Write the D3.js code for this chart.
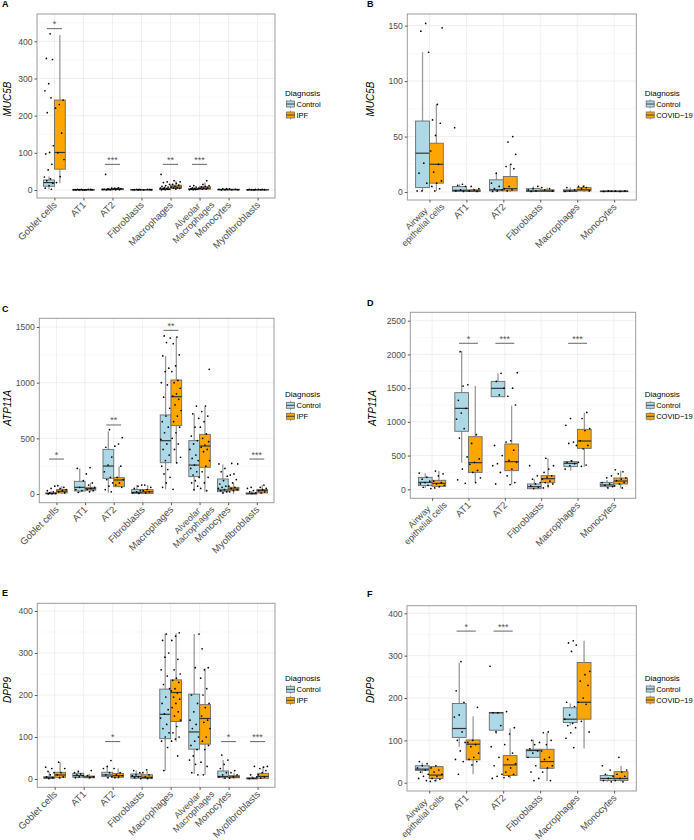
<!DOCTYPE html>
<html><head><meta charset="utf-8">
<script src="https://cdn.jsdelivr.net/npm/d3@7"></script>
<style>body{margin:0;background:#fff} svg{display:block} text{font-family:"Liberation Sans",Arial,Helvetica,sans-serif}</style>
</head><body>
<svg id="c" width="694" height="840"></svg>
<script>
// ---------- categories ----------
const catsIPF = ["Goblet cells","AT1","AT2","Fibroblasts","Macrophages","Alveolar\nMacrophages","Monocytes","Myofibroblasts"];
const catsCOV = ["Airway\nepithelial cells","AT1","AT2","Fibroblasts","Macrophages","Monocytes"];
const groups = ["Control","Case"];

// ---------- box stats: [lower whisker, Q1, median, Q3, upper whisker] ----------
// Panel A: MUC5B, IPF
const aCtrlBox = [[2,10,20,27,36],[0,0.3,0.8,1.5,3],[0,0.5,1,2.5,5],[0,0.3,0.8,1.5,3],[0,1,2.5,5,12],[0,1,2,4,9],[0,0.5,1,2,4],[0,0.3,0.7,1.2,2.5]];
const aCaseBox = [[18,56,101,242,417],[0,0.3,0.7,1.3,2.5],[0,1,2,4,8],[0,0.3,0.7,1.5,3],[0,4,8,13,25],[0,2,5,9,20],[0,0.5,1,2,4],[0,0.3,0.8,1.5,3]];
const aCtrlPts = [[420,354,351,286,267,248,208,119,101,97,69,54,35,30,25,18,12,5,2],[0.2,0.5,1,1.5,2,0.8,1.2,0.4],[42,5,3,2,1,0.5,1.5,2.5],[0.3,0.8,1.2,2,0.5,1.5],[42,22,20,15,12,10,8,6,5,4,3,2,1,0.5,2.5,3.5],[12,10,8,6,5,4,3,2,1,0.5,1.5,2.5],[4,3,2,1,0.5,1.5],[2,1.5,1,0.5,0.3]];
const aCasePts = [[242,230,220,153,100,82,36,20],[0.5,1,2,0.3,1.5],[6,5,4,3,2,1,0.5],[1,2,0.5,1.5],[25,22,18,15,13,10,8,6,5,4,3],[25,15,12,10,8,6,5,4,3,2],[3,2,1,0.5],[2,1.5,1,0.5]];
const aSigCat = [0,2,4,5]; const aSigLab = ["*","***","**","***"]; const aSigY = [434,69,69,69];
const aYTicks = [0,100,200,300,400];

// Panel B: MUC5B, COVID-19
const bCtrlBox = [[1,4,35,64,126],[0,0.5,1.5,5,7],[0,1,2,11,17],[0,0.5,1,3,5],[0,0.5,1,2,4],[0,0.3,0.6,1,1.5]];
const bCaseBox = [[1,8,25,44,79],[0,0.5,1,2,3],[0,1,3,14,25],[0,0.5,1,2,4],[0,1,2,4,6],[0,0.3,0.6,1,1.5]];
const bCtrlPts = [[152,145,126,26,17,8,1,1],[58,7,6,5,2,1,0.5],[17,8,5,3,2,1,0.5],[5,3,2,1,0.5],[4,2,1,0.5],[1,0.5,0.8]];
const bCasePts = [[148,79,65,62,51,37,25,18,10,8,5,3,1],[5,3,2,1,0.5],[50,45,34,25,23,21,5,3,2,1],[4,3,2,1],[5,5,4,3,1],[1,0.5,0.8]];
const bSigCat = []; const bSigLab = []; const bSigY = [];
const bYTicks = [0,50,100,150];

// Panel C: ATP11A, IPF
const cCtrlBox = [[0,2,5,10,25],[12,27,60,114,230],[12,141,251,401,563],[0,5,15,40,80],[42,281,479,710,1240],[27,156,260,479,724],[0,21,36,135,266],[0,1,3,10,25]];
const cCaseBox = [[0,10,25,40,75],[20,35,48,60,100],[60,66,126,147,246],[0,5,20,40,80],[275,614,874,1024,1413],[21,240,431,536,784],[0,30,45,60,100],[0,10,30,40,80]];
const cCtrlPts = [[70,50,30,20,10,5,3,1],[230,120,60,40,30,15],[578,420,332,260,200,150,130,100,70,40,20],[80,70,50,30,20,10,5],[1420,1400,1360,1240,1130,1100,1000,980,870,770,700,650,600,550,490,450,400,350,300,250,220,180,150,100,60],[790,720,680,600,520,480,450,400,350,320,300,260,230,200,170,150,120,100,70,40],[270,230,200,160,120,90,70,60,50,40,30,20,10],[60,50,30,20,10,5]];
const cCasePts = [[75,60,50,40,30,20,10],[237,180,100,80,60,50,40,30,20],[506,449,430,250,150,130,100,80,60],[80,60,40,30,20,10],[1410,1350,1250,1150,1100,1020,1000,950,900,880,850,800,750,700,650,600,550,500,450,400,330,280,42],[1120,790,740,700,650,600,540,500,470,440,420,400,380,300,250,200,150,100,50,30],[275,270,180,170,130,100,70,60,50,40,30,20],[80,60,50,40,30,20,10]];
const cSigCat = [0,2,4,7]; const cSigLab = ["*","**","**","***"]; const cSigY = [314,620,1470,314];
const cYTicks = [0,500,1000,1500];

// Panel D: ATP11A, COVID-19
const dCtrlBox = [[20,54,103,177,237],[395,860,1200,1433,2050],[1373,1373,1497,1600,1720],[9,9,39,79,150],[276,336,385,410,435],[20,39,64,103,138]];
const dCaseBox = [[20,44,88,133,276],[88,251,395,780,1530],[69,276,410,672,1240],[14,98,157,202,459],[336,607,716,889,1136],[14,79,123,167,276]];
const dCtrlPts = [[240,180,150,120,100,80,60,30,10],[2040,1550,1530,1320,1200,1130,1040,900,760,480,300,140,90],[1720,1600,1500,1400,650,500,380,350,250,80],[350,200,150,100,80,50,30,10],[1050,950,700,680,650,420,400,380,350,300],[200,170,100,80,60,40,20]];
const dCasePts = [[270,230,200,120,100,80,60,40,20],[810,680,450,400,370,280,250,170,100],[1729,1500,1380,1250,720,700,580,430,400,300,200,100,70],[460,350,300,250,200,180,150,120,100,80,50,20],[1140,1050,900,870,720,650,600,400,360,340],[290,260,230,170,150,130,100,80,50,20]];
const dSigCat = [1,2,4]; const dSigLab = ["*","***","***"]; const dSigY = [2165,2165,2165];
const dYTicks = [0,500,1000,1500,2000,2500];

// Panel E: DPP9, IPF
const eCtrlBox = [[0,1.6,3,5.5,17],[2,4,8,13.5,18],[1,5.6,9.5,16,29],[0,2,6,12,20],[20,96,154,214,347],[12,71,112,202,345],[0,4,6,19,45],[0,0.5,1,3,7]];
const eCaseBox = [[0,4,9.5,16,40],[0,3,5,7,12],[0,4,8,13,25],[0,1,4,10,20],[89,137,206,236,347],[9.5,83,144,177,263],[0,3,5,8,15],[0,1.6,6,13.5,30]];
const eCtrlPts = [[28,25,18,15,10,5,3,1],[18,15,12,10,8,5,3],[44,30,25,15,10,5,3],[20,15,10,8,5,3,1],[345,330,300,290,260,245,225,215,195,180,165,155,145,130,120,110,100,90,75,20],[345,265,200,180,160,140,130,120,100,90,80,70,55,45,35,15,10],[57,45,35,25,15,10,5,2],[30,10,5,2,1]];
const eCasePts = [[40,25,15,10,5,3],[20,8,5,3],[25,15,10,8,5,3],[22,15,10,5,3,1],[348,340,330,285,260,250,240,235,230,215,210,205,195,190,180,170,160,150,140,125,110,100,95,90,55],[310,265,260,240,215,200,180,170,150,140,135,120,100,90,80,70,40,30,10],[20,15,10,5,2],[30,28,25,20,15,10,5,2]];
const eSigCat = [2,6,7]; const eSigLab = ["*","*","***"]; const eSigY = [89,89,89];
const eYTicks = [0,100,200,300,400];

// Panel F: DPP9, COVID-19
const fCtrlBox = [[22,29,32,40,47],[85,107,128,187,283],[115,124,165,166,166],[60,60,76,79,102],[135,142,150,177,187],[2,5,10,17,20]];
const fCaseBox = [[2,10,18,38,40],[20,54,91,101,157],[10,17,42,64,128],[4,34,50,79,118],[81,150,190,284,335],[2,5,10,26,40]];
const fCtrlPts = [[50,45,40,35,30,25,20,15,10,5],[286,217,190,160,155,120,100,95,75,55,50,20],[275,165,165,135,120,85,60,40,20,15,10],[100,95,90,80,75,70,60,40,25,10,5],[335,330,325,310,190,180,160,150,140,135,130,118,105,83],[40,30,20,15,10,5,2]];
const fCasePts = [[40,35,30,25,20,15,10,8,5,3],[178,100,95,90,85,70,60,55,50,42],[168,130,115,90,70,55,45,35,25,20,15,12],[120,118,100,90,75,60,55,40,35,25,5],[263,255,240,230,200,190,185,145,120],[60,30,25,20,15,10,5,2]];
const fSigCat = [1,2]; const fSigLab = ["*","***"]; const fSigY = [358,358];
const fYTicks = [0,100,200,300,400];

// ---------- layout ----------
const panels = [
 {letter:"A",cats:catsIPF,cb:aCtrlBox,kb:aCaseBox,cp:aCtrlPts,kp:aCasePts,sc:aSigCat,sl:aSigLab,sy:aSigY,yt:aYTicks,gene:"MUC5B",caseName:"IPF",
  l:37,r:275,t:14,b:198,yd:[-21.5,473.4],lp:[2,7],ytp:[7,99],leg:[285,93]},
 {letter:"B",cats:catsCOV,cb:bCtrlBox,kb:bCaseBox,cp:bCtrlPts,kp:bCasePts,sc:bSigCat,sl:bSigLab,sy:bSigY,yt:bYTicks,gene:"MUC5B",caseName:"COVID\u221219",
  l:407.3,r:636.3,t:14,b:200,yd:[-7.2,160.5],lp:[367,7],ytp:[370,99],leg:[644.7,93]},
 {letter:"C",cats:catsIPF,cb:cCtrlBox,kb:cCaseBox,cp:cCtrlPts,kp:cCasePts,sc:cSigCat,sl:cSigLab,sy:cSigY,yt:cYTicks,gene:"ATP11A",caseName:"IPF",
  l:39.3,r:274,t:318.3,b:502.7,yd:[-78,1578],lp:[2,312],ytp:[7,408],leg:[285,394.3]},
 {letter:"D",cats:catsCOV,cb:dCtrlBox,kb:dCaseBox,cp:dCtrlPts,kp:dCasePts,sc:dSigCat,sl:dSigLab,sy:dSigY,yt:dYTicks,gene:"ATP11A",caseName:"COVID\u221219",
  l:410.3,r:635.7,t:312.3,b:498.3,yd:[-133.5,2624.5],lp:[367,306],ytp:[372,408],leg:[644.7,394.3]},
 {letter:"E",cats:catsIPF,cb:eCtrlBox,kb:eCaseBox,cp:eCtrlPts,kp:eCasePts,sc:eSigCat,sl:eSigLab,sy:eSigY,yt:eYTicks,gene:"DPP9",caseName:"IPF",
  l:37.3,r:275,t:603.3,b:787.3,yd:[-19.8,418.3],lp:[2,596],ytp:[7,690],leg:[285,678.3]},
 {letter:"F",cats:catsCOV,cb:fCtrlBox,kb:fCaseBox,cp:fCtrlPts,kp:fCasePts,sc:fSigCat,sl:fSigLab,sy:fSigY,yt:fYTicks,gene:"DPP9",caseName:"COVID\u221219",
  l:407,r:636.3,t:605.7,b:791,yd:[-19.6,418],lp:[367,596.7],ytp:[370,690],leg:[644.7,678]}
];

const fills = ["#ADD8E6","#FFA500"];
const svg = d3.select("#c");
const FONT = "'Liberation Sans',Arial,Helvetica,sans-serif";

panels.forEach((p, pi) => {
  const g = svg.append("g");
  const x = d3.scalePoint().domain(p.cats).range([p.l, p.r]).padding(0.6);
  const y = d3.scaleLinear().domain(p.yd).range([p.b, p.t]);
  const u = x.step();
  const half = 0.1875 * u;

  // minor grid
  const minor = [];
  const step = p.yt[1] - p.yt[0];
  p.yt.forEach(t => [t - step/2, t + step/2].forEach(v => { if (v > p.yd[0] && v < p.yd[1] && !minor.includes(v)) minor.push(v); }));
  g.append("g").selectAll("line").data(minor).join("line")
    .attr("x1", p.l).attr("x2", p.r).attr("y1", d => y(d)).attr("y2", d => y(d))
    .attr("stroke", "#f3f3f3").attr("stroke-width", 0.6);
  g.append("g").selectAll("line").data(p.yt).join("line")
    .attr("x1", p.l).attr("x2", p.r).attr("y1", d => y(d)).attr("y2", d => y(d))
    .attr("stroke", "#ebebeb").attr("stroke-width", 0.8);
  g.append("g").selectAll("line").data(p.cats).join("line")
    .attr("x1", d => x(d)).attr("x2", d => x(d)).attr("y1", p.t).attr("y2", p.b)
    .attr("stroke", "#ebebeb").attr("stroke-width", 0.8);

  // boxes
  p.cats.forEach((c, ci) => {
    [p.cb[ci], p.kb[ci]].forEach((bx, gi) => {
      const cx = x(c) + (gi === 0 ? -half : half);
      const [lo, q1, md, q3, hi] = bx;
      g.append("line").attr("x1", cx).attr("x2", cx).attr("y1", y(hi)).attr("y2", y(q3))
        .attr("stroke", "#9a9a9a").attr("stroke-width", 1.3);
      g.append("line").attr("x1", cx).attr("x2", cx).attr("y1", y(q1)).attr("y2", y(lo))
        .attr("stroke", "#9a9a9a").attr("stroke-width", 1.3);
      g.append("rect").attr("x", cx - half).attr("width", 2*half)
        .attr("y", y(q3)).attr("height", Math.max(0.6, y(q1) - y(q3)))
        .attr("fill", fills[gi]).attr("stroke", "#6b6b6b").attr("stroke-width", 0.9);
      g.append("line").attr("x1", cx - half).attr("x2", cx + half).attr("y1", y(md)).attr("y2", y(md))
        .attr("stroke", "#333").attr("stroke-width", 1.2);
    });
  });

  // points (jitter-dodged around each group centre)
  p.cats.forEach((c, ci) => {
    [p.cp[ci], p.kp[ci]].forEach((pts, gi) => {
      const cx = x(c) + (gi === 0 ? -half : half);
      pts.forEach((v, k) => {
        const fr = ((k + 1) * 0.618034 + ci * 0.37 + gi * 0.21 + pi * 0.13) % 1;
        const jx = (fr - 0.5) * 0.34 * u;
        g.append("circle").attr("cx", cx + jx).attr("cy", y(v)).attr("r", 0.85).attr("fill", "#000");
      });
    });
  });

  // significance
  p.sc.forEach((ci, k) => {
    const cx = x(p.cats[ci]);
    g.append("line").attr("x1", cx - 0.26*u).attr("x2", cx + 0.26*u).attr("y1", y(p.sy[k])).attr("y2", y(p.sy[k]))
      .attr("stroke", "#666").attr("stroke-width", 1);
    g.append("text").attr("x", cx).attr("y", y(p.sy[k]) - 1.5).attr("text-anchor", "middle")
      .attr("font-size", 9).attr("fill", "#555").text(p.sl[k]);
  });

  // border
  g.append("rect").attr("x", p.l).attr("y", p.t).attr("width", p.r - p.l).attr("height", p.b - p.t)
    .attr("fill", "none").attr("stroke", "#9c9c9c").attr("stroke-width", 1);

  // y axis
  const ya = g.append("g").attr("transform", `translate(${p.l},0)`)
    .call(d3.axisLeft(y).tickValues(p.yt).tickFormat(d3.format("d")).tickSize(2.5).tickPadding(2));
  ya.select(".domain").remove();
  ya.selectAll(".tick line").attr("stroke", "#555");
  ya.selectAll(".tick text").attr("fill", "#4d4d4d").attr("font-size", 8.6).attr("font-family", FONT);

  // x axis
  const xa = g.append("g").attr("transform", `translate(0,${p.b})`)
    .call(d3.axisBottom(x).tickSize(2.5).tickFormat(""));
  xa.select(".domain").remove();
  xa.selectAll(".tick line").attr("stroke", "#555");
  p.cats.forEach(c => {
    const lines = c.split("\n");
    if (lines.length === 1) {
      g.append("text").attr("transform", `translate(${x(c) + 3},${p.b + 7.5}) rotate(-45)`)
        .attr("font-size", 9.6).attr("fill", "#4d4d4d").attr("text-anchor", "end").text(c);
    } else {
      const t = g.append("text").attr("transform", `translate(${x(c) + 9},${p.b + 1}) rotate(-45)`)
        .attr("font-size", 9).attr("fill", "#4d4d4d");
      const spans = lines.map((ln, i) => t.append("tspan").attr("y", i * 9).attr("text-anchor", "middle").text(ln));
      const W = d3.max(spans.map(s => s.node().getComputedTextLength()));
      spans.forEach(s => s.attr("x", -W / 2));
    }
  });

  // y title
  g.append("text").attr("transform", `translate(${p.ytp[0] + 3.5},${p.ytp[1]}) rotate(-90)`)
    .attr("text-anchor", "middle").attr("font-size", 10).attr("font-style", "italic").attr("fill", "#000").text(p.gene);

  // panel letter
  g.append("text").attr("x", p.lp[0]).attr("y", p.lp[1]).attr("font-size", 9).attr("font-weight", "bold").text(p.letter);

  // legend
  const [lx, ly] = p.leg;
  g.append("text").attr("x", lx).attr("y", ly + 3).attr("font-size", 8).attr("fill", "#000").text("Diagnosis");
  ["Control", p.caseName].forEach((lab, i) => {
    const cy = ly + 11 + i * 11;
    const kx = lx + 1.5;
    g.append("line").attr("x1", kx + 4).attr("x2", kx + 4).attr("y1", cy - 4.5).attr("y2", cy + 4.5).attr("stroke", "#9a9a9a").attr("stroke-width", 1);
    g.append("rect").attr("x", kx).attr("y", cy - 3).attr("width", 8).attr("height", 6).attr("fill", fills[i]).attr("stroke", "#6b6b6b").attr("stroke-width", 0.8);
    g.append("line").attr("x1", kx).attr("x2", kx + 8).attr("y1", cy).attr("y2", cy).attr("stroke", "#333").attr("stroke-width", 0.9);
    g.append("text").attr("x", lx + 11.5).attr("y", cy + 3).attr("font-size", 7.5).attr("fill", "#000").text(lab);
  });
});
</script>
</body></html>
